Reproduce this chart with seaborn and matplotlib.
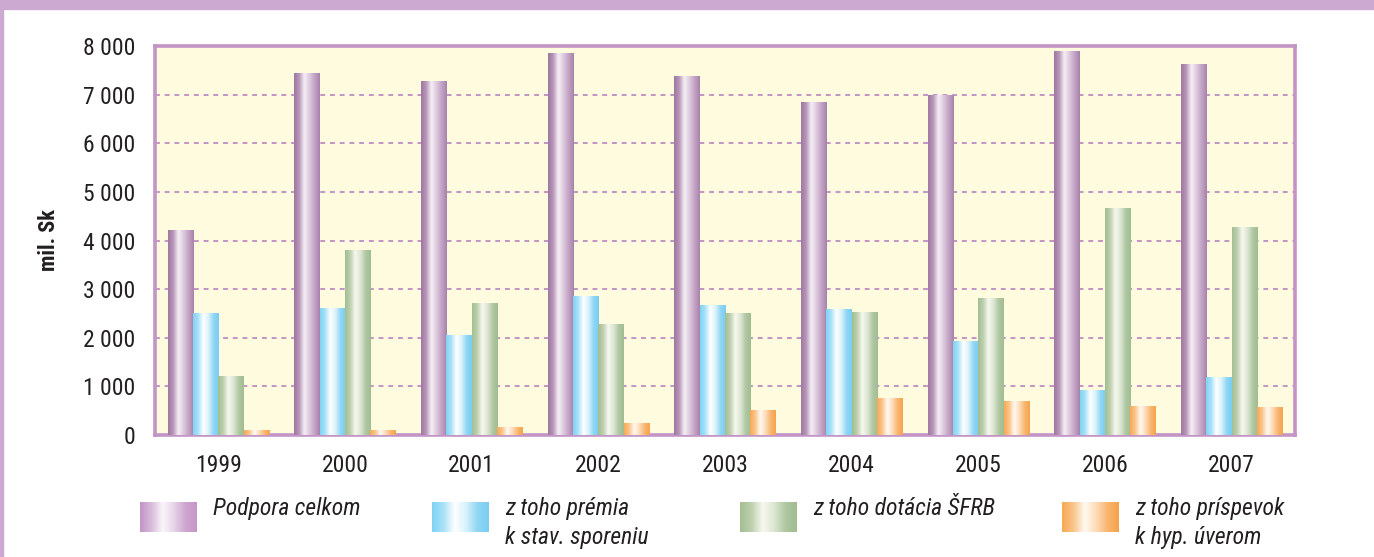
import numpy as np
import pandas as pd
import matplotlib.pyplot as plt
import seaborn as sns
from matplotlib.colors import LinearSegmentedColormap
from matplotlib.patches import Rectangle
from matplotlib.ticker import FuncFormatter

# data (mil. Sk)
roky = ["1999", "2000", "2001", "2002", "2003", "2004", "2005", "2006", "2007"]
podpora = [4210, 7440, 7275, 7850, 7380, 6840, 6985, 7890, 7625]
premia = [2505, 2610, 2055, 2855, 2670, 2590, 1930, 925, 1190]
dotacia = [1210, 3800, 2710, 2280, 2505, 2525, 2815, 4665, 4275]
prispevok = [100, 100, 145, 245, 495, 760, 680, 595, 575]

serie = ["Podpora celkom", "z toho prémia\nk stav. sporeniu",
         "z toho dotácia ŠFRB", "z toho príspevok\nk hyp. úverom"]
yticks = [0, 1000, 2000, 3000, 4000, 5000, 6000, 7000, 8000]

# gradient stops for each series (left -> right across the bar)
farby = [
    ["#9f779f", "#b896b8", "#f6f0f6", "#dccadc", "#c2a2c6", "#a882a8"],
    ["#7fd2f4", "#a8e2f8", "#ffffff", "#d8f2fc", "#90d6f4", "#78cef2"],
    ["#a3bd93", "#bdd0ae", "#f8f8f0", "#dce6d2", "#b0c8a2", "#a0bc90"],
    ["#f7a954", "#fac48a", "#fffaf2", "#fddcb8", "#f9b670", "#f6a24a"],
]
# legend swatches: the purple one is lighter than the bars
farby_leg = [["#c293c6", "#d8bcdb", "#faf6fa", "#e6d4e8", "#cda6d0", "#c596c8"]] + farby[1:]
cmaps = [LinearSegmentedColormap.from_list("g%d" % i, c) for i, c in enumerate(farby)]
cmaps_leg = [LinearSegmentedColormap.from_list("l%d" % i, c) for i, c in enumerate(farby_leg)]

fialova = "#c394c6"
pozadie = "#fffbdf"

df = pd.DataFrame({"rok": roky * 4,
                   "hodnota": podpora + premia + dotacia + prispevok,
                   "seria": sum([[s] * len(roky) for s in serie], [])})

plt.rcParams["font.family"] = ["Roboto Condensed", "Archivo Narrow", "DejaVu Sans"]

fig = plt.figure(figsize=(13.74, 5.57), dpi=100)
ax = fig.add_axes([155 / 1374, 122 / 557, 1140 / 1374, 389 / 557])

sns.barplot(data=df, x="rok", y="hodnota", hue="seria", hue_order=serie,
            order=roky, ax=ax, legend=False, width=0.8, gap=0,
            edgecolor="none", linewidth=0, errorbar=None)

grad = np.linspace(0, 1, 256).reshape(1, -1)
for cont, cm in zip(ax.containers, cmaps):
    for p in cont:
        x, w, h = p.get_x(), p.get_width(), p.get_height()
        p.set_alpha(0)
        ax.imshow(grad, cmap=cm, aspect="auto", extent=[x, x + w, 0, h],
                  zorder=3, interpolation="bicubic")

ax.set_xlim(-0.5, len(roky) - 0.5)
ax.set_ylim(0, 8000)
ax.set_facecolor(pozadie)
ax.set_yticks(yticks)
ax.yaxis.set_major_formatter(FuncFormatter(lambda v, _: f"{int(v):,}".replace(",", " ")))
ax.tick_params(axis="both", length=0, labelsize=17, colors="#231f20", pad=14)
ax.tick_params(axis="x", pad=14)
ax.grid(axis="y", color=fialova, linestyle=(0, (2.5, 2.5)), linewidth=1.4, zorder=1)
ax.set_axisbelow(True)
for s in ax.spines.values():
    s.set_color(fialova)
    s.set_linewidth(2.6)
ax.set_xlabel("")
ax.set_ylabel("mil. Sk", fontsize=16, fontweight="bold", color="#231f20", labelpad=17)

# purple frame of the page
fig.patches.append(Rectangle((0, 1 - 9 / 557), 1, 9 / 557, transform=fig.transFigure,
                             color="#cba9d0", zorder=0))
fig.patches.append(Rectangle((0, 0), 3 / 1374, 1, transform=fig.transFigure,
                             color="#cba9d0", zorder=0))

# legend with gradient swatches
leg_x = [140, 432, 740, 1062]
for lx, cm, txt in zip(leg_x, cmaps_leg, serie):
    sw = fig.add_axes([lx / 1374, (557 - 532) / 557, 57 / 1374, 30 / 557])
    sw.imshow(grad, cmap=cm, aspect="auto", interpolation="bicubic")
    sw.axis("off")
    fig.text((lx + 73) / 1374, (557 - 497) / 557, txt, fontsize=17, style="italic",
             color="#231f20", va="top", ha="left", linespacing=1.35)

fig.savefig("out.png", dpi=100)
